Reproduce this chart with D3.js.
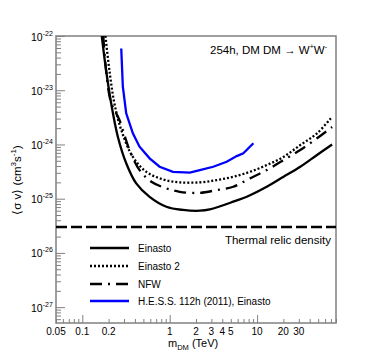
<!DOCTYPE html>
<html>
<head>
<meta charset="utf-8">
<script src="https://cdn.jsdelivr.net/npm/d3@7"></script>
<style>
  body { margin: 0; background: #fff; }
  text { font-family: "Liberation Sans", Arial, Helvetica, sans-serif; fill: #000; }
</style>
</head>
<body>
<svg id="chart" width="374" height="360"></svg>
<script>
// masses (TeV) and <sigma v> (cm^3 s^-1)
const massEinasto = [0.167, 0.187, 0.214, 0.255, 0.318, 0.414, 0.589, 0.916, 1.42, 2.21, 2.88, 5.34, 8.3, 12.9, 20.1, 31.2, 48.5, 72.2];
const sigmaEinasto = [1e-22, 2.36e-23, 5.7e-24, 1.39e-24, 4.5e-25, 1.91e-25, 1.08e-25, 7.1e-26, 6.2e-26, 6.0e-26, 6.35e-26, 8.8e-26, 1.16e-25, 1.66e-25, 2.54e-25, 3.88e-25, 6.4e-25, 1.0e-24];

const massEinasto2 = [0.184, 0.204, 0.233, 0.279, 0.379, 0.540, 0.837, 1.30, 2.21, 3.44, 5.34, 8.3, 12.9, 20.1, 31.2, 48.5, 72.2];
const sigmaEinasto2 = [1e-22, 2.36e-23, 5.7e-24, 1.85e-24, 5.9e-25, 3.13e-25, 2.27e-25, 2.0e-25, 2.0e-25, 2.2e-25, 2.54e-25, 3.13e-25, 4.17e-25, 5.9e-25, 9.75e-25, 1.6e-24, 3.25e-24];

const massNFW = [0.174, 0.21, 0.266, 0.347, 0.452, 0.617, 0.916, 1.30, 2.21, 3.44, 5.34, 8.3, 12.9, 20.1, 31.2, 48.5, 72.2];
const sigmaNFW = [1e-22, 6.5e-24, 2.82e-24, 7.9e-25, 3.37e-25, 2.05e-25, 1.55e-25, 1.34e-25, 1.28e-25, 1.44e-25, 1.66e-25, 2.37e-25, 3.37e-25, 5.15e-25, 7.9e-25, 1.3e-24, 2.1e-24];

const massHESS = [0.279, 0.291, 0.318, 0.379, 0.452, 0.589, 0.767, 1.09, 1.70, 2.21, 3.15, 4.49, 5.85, 6.96, 9.07];
const sigmaHESS = [5.9e-23, 1.16e-23, 3.75e-24, 1.6e-24, 9.1e-25, 5.55e-25, 3.88e-25, 3.13e-25, 3.03e-25, 3.37e-25, 3.88e-25, 4.8e-25, 6.1e-25, 6.85e-25, 1.05e-24];

const thermalRelic = 3e-26;

const xTickLabels = [0.05, 0.1, 0.2, 1, 2, 3, 4, 5, 10, 20, 30];
const yTickExponents = [-22, -23, -24, -25, -26, -27];
const legendNames = ["Einasto", "Einasto 2", "NFW", "H.E.S.S. 112h (2011), Einasto"];

const svg = d3.select('#chart');
const pLeft = 56, pTop = 36, pRight = 336, pBottom = 323;
const frameColor = '#808080';

const x = d3.scaleLog().domain([0.05, 80]).range([pLeft, pRight]);
const y = d3.scaleLog().domain([5.1e-28, 1e-22]).range([pBottom, pTop]);

svg.append('clipPath').attr('id', 'plotclip')
  .append('rect').attr('x', pLeft).attr('y', pTop).attr('width', pRight - pLeft).attr('height', pBottom - pTop);

// x ticks: every 1..9 * decade inside domain
let xTicks = [];
[0.01, 0.1, 1, 10].forEach(function(dec) {
  for (let k = 1; k <= 9; k++) {
    const v = dec * k;
    if (v >= 0.05 && v <= 80) xTicks.push(v);
  }
});
const xAxis = svg.append('g')
  .attr('transform', 'translate(0,' + pBottom + ')')
  .call(d3.axisBottom(x).tickValues(xTicks).tickFormat('').tickSize(-4).tickSizeOuter(0));
xAxis.select('.domain').remove();
xAxis.selectAll('.tick line')
  .attr('stroke', frameColor).attr('stroke-width', 1)
  .attr('y2', function(d) { return [0.1, 1, 10].includes(d) ? -8 : -4; });

let yTicks = [];
for (let e = -28; e <= -23; e++) {
  for (let k = 1; k <= 9; k++) {
    const v = k * Math.pow(10, e);
    if (v >= 5.1e-28 && v <= 1.0001e-22) yTicks.push(v);
  }
}
yTicks.push(1e-22);
const yAxis = svg.append('g')
  .attr('transform', 'translate(' + pLeft + ',0)')
  .call(d3.axisLeft(y).tickValues(yTicks).tickFormat('').tickSize(-5).tickSizeOuter(0));
yAxis.select('.domain').remove();
yAxis.selectAll('.tick line')
  .attr('stroke', frameColor).attr('stroke-width', 1)
  .attr('x2', function(d) {
    const l = Math.log10(d);
    return Math.abs(l - Math.round(l)) < 1e-6 ? 9 : 5;
  });

// frame
svg.append('rect')
  .attr('x', pLeft).attr('y', pTop).attr('width', pRight - pLeft).attr('height', pBottom - pTop)
  .attr('fill', 'none').attr('stroke', frameColor).attr('stroke-width', 1.5);

// x tick labels
svg.append('g').selectAll('text').data(xTickLabels).join('text')
  .attr('x', function(d) { return x(d); })
  .attr('y', 335)
  .attr('text-anchor', 'middle')
  .attr('font-size', 10)
  .text(function(d) { return d; });

// y tick labels
const yLab = svg.append('g').selectAll('text').data(yTickExponents).join('text')
  .attr('x', 31)
  .attr('y', function(d) { return y(Math.pow(10, d)) + 4.5; })
  .attr('font-size', 10.5);
yLab.append('tspan').text('10');
yLab.append('tspan').attr('font-size', 7).attr('dy', -5).text(function(d) { return d; });

// axis titles
const xt = svg.append('text').attr('x', 168).attr('y', 347).attr('font-size', 11);
xt.append('tspan').text('m');
xt.append('tspan').attr('font-size', 7.5).attr('dy', 3).text('DM');
xt.append('tspan').attr('dy', -3).text(' (TeV)');

const yt = svg.append('text')
  .attr('transform', 'translate(21,180) rotate(-90)')
  .attr('text-anchor', 'middle')
  .attr('font-size', 11.5);
yt.append('tspan').text('\u27E8\u03C3 v\u27E9 (cm');
yt.append('tspan').attr('font-size', 8).attr('dy', -5).text('3');
yt.append('tspan').attr('dy', 5).text('s');
yt.append('tspan').attr('font-size', 8).attr('dy', -5).text('-1');
yt.append('tspan').attr('dy', 5).text(')');

// title
const title = svg.append('text').attr('x', 327).attr('y', 54).attr('text-anchor', 'end').attr('font-size', 11.5);
title.append('tspan').text('254h, DM DM \u2192 W');
title.append('tspan').attr('font-size', 7).attr('dy', -5).text('+');
title.append('tspan').attr('dy', 5).text('W');
title.append('tspan').attr('font-size', 7).attr('dy', -5).text('-');

// thermal relic line
svg.append('line')
  .attr('x1', pLeft).attr('x2', pRight)
  .attr('y1', y(thermalRelic)).attr('y2', y(thermalRelic))
  .attr('stroke', '#000').attr('stroke-width', 2.5).attr('stroke-dasharray', '11,4');
svg.append('text').attr('x', 331).attr('y', 244).attr('text-anchor', 'end').attr('font-size', 11.5)
  .text('Thermal relic density');

// curves
const series = [
  { m: massEinasto, s: sigmaEinasto, color: '#000', dash: null, w: 2.3, curve: d3.curveCatmullRom },
  { m: massEinasto2, s: sigmaEinasto2, color: '#000', dash: '2,2', w: 2.3, curve: d3.curveCatmullRom },
  { m: massNFW, s: sigmaNFW, color: '#000', dash: '12,6,2,6', w: 2.3, curve: d3.curveCatmullRom },
  { m: massHESS, s: sigmaHESS, color: '#0000ff', dash: null, w: 2.3, curve: d3.curveLinear }
];

const plot = svg.append('g').attr('clip-path', 'url(#plotclip)');
series.forEach(function(sr) {
  const pts = sr.m.map(function(m, i) { return [m, sr.s[i]]; });
  const line = d3.line()
    .x(function(d) { return x(d[0]); })
    .y(function(d) { return y(d[1]); })
    .curve(sr.curve);
  plot.append('path')
    .attr('d', line(pts))
    .attr('fill', 'none')
    .attr('stroke', sr.color)
    .attr('stroke-width', sr.w)
    .attr('stroke-dasharray', sr.dash);
});

// legend
const legendY = [248, 266, 284, 301];
series.forEach(function(sr, i) {
  svg.append('line')
    .attr('x1', 90).attr('x2', 129)
    .attr('y1', legendY[i]).attr('y2', legendY[i])
    .attr('stroke', sr.color).attr('stroke-width', 2.3)
    .attr('stroke-dasharray', sr.dash);
  svg.append('text')
    .attr('x', 138).attr('y', legendY[i] + 3.5)
    .attr('font-size', 10)
    .text(legendNames[i]);
});
</script>
</body>
</html>
